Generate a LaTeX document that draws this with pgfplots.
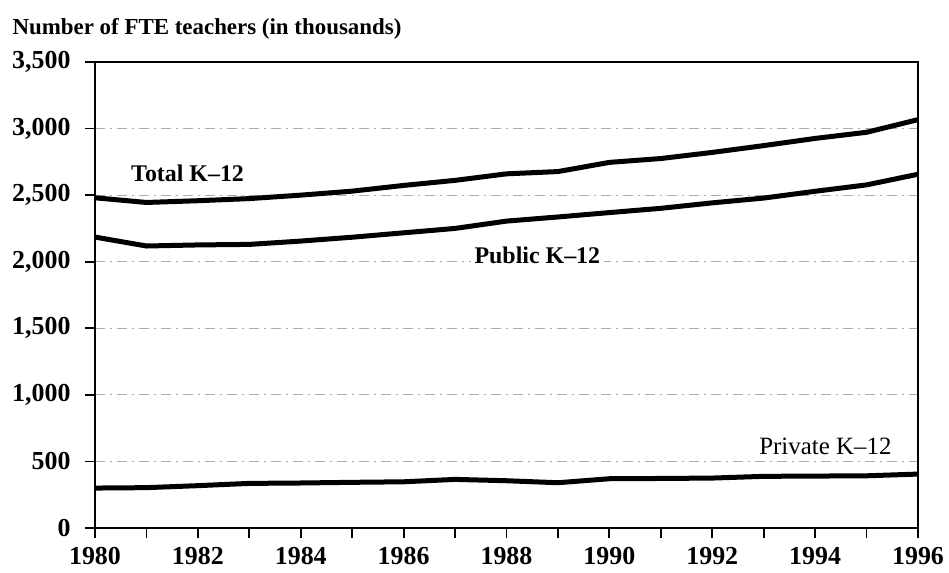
\documentclass[border=0pt]{standalone}
\usepackage{fontspec}
\setmainfont{Liberation Serif}
\usepackage{pgfplots}
\pgfplotsset{compat=1.18}
\begin{document}
\begin{tikzpicture}
\useasboundingbox (-95bp,-45bp) rectangle (854bp,528bp);
\begin{axis}[
  at={(0,0)}, anchor=south west,
  scale only axis, width=823bp, height=466bp,
  xmin=1980, xmax=1996, ymin=0, ymax=3500,
  xtick={1980,1981,...,1996},
  xticklabels={1980,,1982,,1984,,1986,,1988,,1990,,1992,,1994,,1996},
  ytick={0,500,...,3500},
  tick pos=left, tick align=outside,
  major tick length=10bp,
  tick style={black, line width=1.8bp},
  axis line style={black, line width=2.4bp},
  /pgf/number format/assume math mode=true,
  yticklabel style={/pgf/number format/1000 sep={,}, font=\fontsize{26}{28}\selectfont\bfseries, xshift=-11bp},
  xticklabel style={/pgf/number format/1000 sep={}, font=\fontsize{26}{28}\selectfont\bfseries, yshift=-6bp},
  ymajorgrids,
  grid style={gray!65, line width=0.8bp, dash pattern=on 10bp off 5bp on 2bp off 5bp},
  clip=false,
]
\addplot[black, line width=5bp] coordinates {
(1980,2480) (1981,2445) (1982,2458) (1983,2474) (1984,2500) (1985,2530) (1986,2573) (1987,2611) (1988,2660) (1989,2677) (1990,2746) (1991,2775) (1992,2821) (1993,2872) (1994,2926) (1995,2972) (1996,3067)};
\addplot[black, line width=5bp] coordinates {
(1980,2185) (1981,2118) (1982,2126) (1983,2130) (1984,2155) (1985,2184) (1986,2217) (1987,2250) (1988,2305) (1989,2336) (1990,2369) (1991,2401) (1992,2442) (1993,2478) (1994,2529) (1995,2577) (1996,2657)};
\addplot[black, line width=5bp] coordinates {
(1980,300) (1981,303) (1982,318) (1983,335) (1984,338) (1985,343) (1986,347) (1987,365) (1988,355) (1989,340) (1990,370) (1991,372) (1992,375) (1993,388) (1994,390) (1995,392) (1996,405)};
\node[font=\fontsize{24}{26}\selectfont\bfseries, fill=white, inner sep=2bp] at (axis cs:1981.8,2666) {Total K--12};
\node[font=\fontsize{24}{26}\selectfont\bfseries, fill=white, inner sep=4bp] at (axis cs:1988.6,2050) {Public K--12};
\node[font=\fontsize{25}{27}\selectfont, fill=white, inner sep=2bp] at (axis cs:1994.2,610) {Private K--12};
\node[font=\fontsize{23}{26}\selectfont\bfseries, anchor=west] at ([xshift=-86bp,yshift=33bp]rel axis cs:0,1) {Number of FTE teachers (in thousands)};
\end{axis}
\end{tikzpicture}
\end{document}
